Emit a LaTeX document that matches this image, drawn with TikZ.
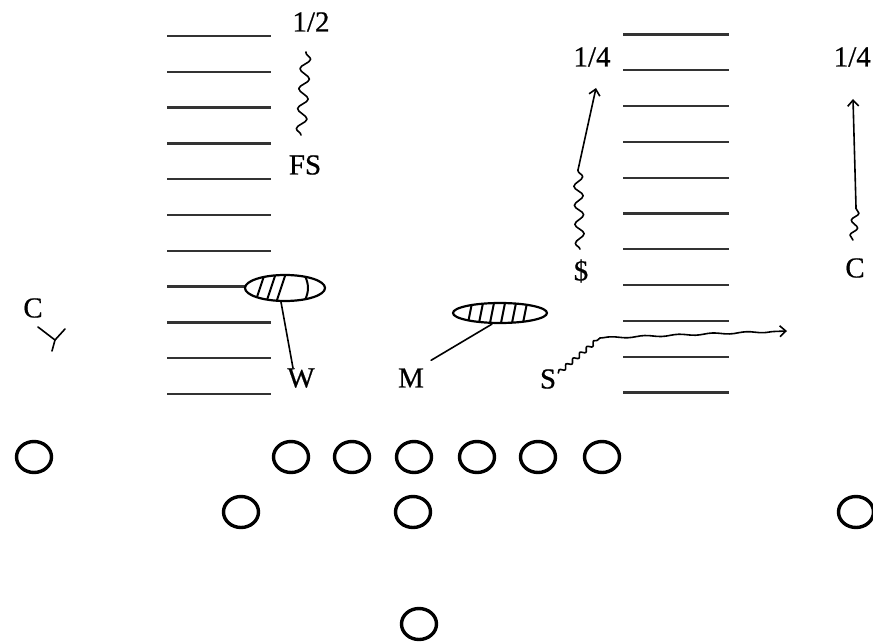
\documentclass[tikz,border=0pt]{standalone}
\usepackage{fontspec}
\setmainfont{Liberation Serif}
\newfontfamily\scanfont{Liberation Serif}[FakeBold=0.6]
\usepackage{tikz}
\usetikzlibrary{arrows.meta,shapes.geometric,decorations.pathmorphing}

\begin{document}
\begin{tikzpicture}[
  x=1pt, y=-1pt,
  lbl/.style={inner sep=0pt, font=\scanfont\fontsize{29pt}{32pt}\selectfont},
  yard/.style={draw=black!80, line width=2.3pt},
  pl/.style={ellipse, draw=black, line width=3.4pt, minimum width=35pt,
             minimum height=31pt, inner sep=0pt},
  hand/.style={draw=black, line width=1.6pt, line cap=round, line join=round},
  wig/.style={hand, decorate, decoration={snake, segment length=20pt, amplitude=5pt}},
  shaky/.style={hand, decorate, decoration={snake, segment length=34pt, amplitude=0.8pt,
                post length=10pt}},
  tip/.style={-{Straight Barb[length=6pt, width=11pt, line width=1.6pt]}},
  run/.style={hand, tip},
  drop/.style={ellipse, draw=black, fill=white, line width=2.2pt, inner sep=0pt},
]
\useasboundingbox (0,0) rectangle (873,644);
\clip (0,0) rectangle (873,644);

% Yard stripes on both sides of the field.
\foreach \i in {0,...,10} {
  \draw[yard] (167,{36+35.8*\i}) -- (271,{36+35.8*\i});
  \draw[yard] (623,{34.5+35.8*\i}) -- (729,{34.5+35.8*\i});
}

% Deep defenders and their zones.
\node[lbl] (half) at (311,22) {1/2};
\node[lbl] (fs) at (305,165) {FS};
\node[lbl] (qL) at (592,57) {1/4};
\node[lbl, anchor=east] (qR) at (871,57) {1/4};
\node[lbl] (dollar) at (581,271) {\$};
\node[lbl] (cR) at (855,268) {C};

% Free safety drifts to the middle half.
\coordinate (fsdeep) at (306,52);
\draw[wig] (fs.north) ++(-4,-20) -- (fsdeep);

% Strong safety and corner bail to their quarters.
\coordinate (dturn) at (578,170);
\coordinate (dreach) at (596,88);
\draw[wig, decoration={segment length=19pt, amplitude=4.5pt}] (dollar.north) ++(-1,-10) -- (dturn);
\draw[run] (dturn) -- (dreach);
\coordinate (cturn) at (856,207);
\coordinate (creach) at (853,99);
\draw[wig, decoration={amplitude=3.5pt, segment length=15pt}] (cR.north) ++(-2,-18) -- (cturn);
\draw[run] (cturn) -- (creach);

% Underneath: linebackers to their drops, S runs to the flat.
\node[lbl] (w) at (301,378) {W};
\node[lbl] (m) at (411,378) {M};
\node[lbl] (s) at (548,379) {S};

\node[drop, minimum width=80pt, minimum height=26pt, path picture={
  \foreach \dx in {-25,-14,-4}
    \draw[hand, line width=2pt] ([xshift=\dx pt]path picture bounding box.center) ++(-4,12) -- ++(8,-24);
  \draw[hand, line width=2pt] ([xshift=20pt]path picture bounding box.center) ++(0,-12) to[bend left=25] ++(0,24);
}] (wdrop) at (285,288) {};
\node[drop, minimum width=94pt, minimum height=20pt, path picture={
  \foreach \dx in {-30,-19,-8,3,14,25}
    \draw[hand, line width=2pt] ([xshift=\dx pt]path picture bounding box.center) ++(-2,10) -- ++(4,-20);
}] (mdrop) at (500,313) {};

\draw[hand] ([xshift=-8pt]w.north) -- ([xshift=-4pt]wdrop.south);
\draw[hand] (m.north east) ++(7,-8) -- ([xshift=-8pt]mdrop.south);

\coordinate (sturn) at (600,338);
\coordinate (sreach) at (787,331);
\draw[wig, decoration={amplitude=2pt, segment length=9pt}] (s.north east) ++(2,4) -- (sturn);
\draw[shaky, tip] (sturn) -- (sreach);

% Corner on the split end, with his jam.
\node[lbl] (cL) at (33,308) {C};
\coordinate (cLfoot) at (55,340);
\draw[hand] (cLfoot) ++(-17,-13) -- (cLfoot) -- ++(10,-11);
\draw[hand] (cLfoot) -- ++(-3,11);

% Offense.
\node[pl] (se) at (34,457) {};
\foreach \n/\x in {lt/291, lg/352, ctr/414, rg/477, rt/538, te/602} {
  \node[pl] (\n) at (\x,457) {};
}
\node[pl] (hb) at (241,512) {};
\node[pl] (qb) at (413,512) {};
\node[pl] (fb) at (419,624) {};
\node[pl] (fl) at (856,512) {};
\end{tikzpicture}
\end{document}
